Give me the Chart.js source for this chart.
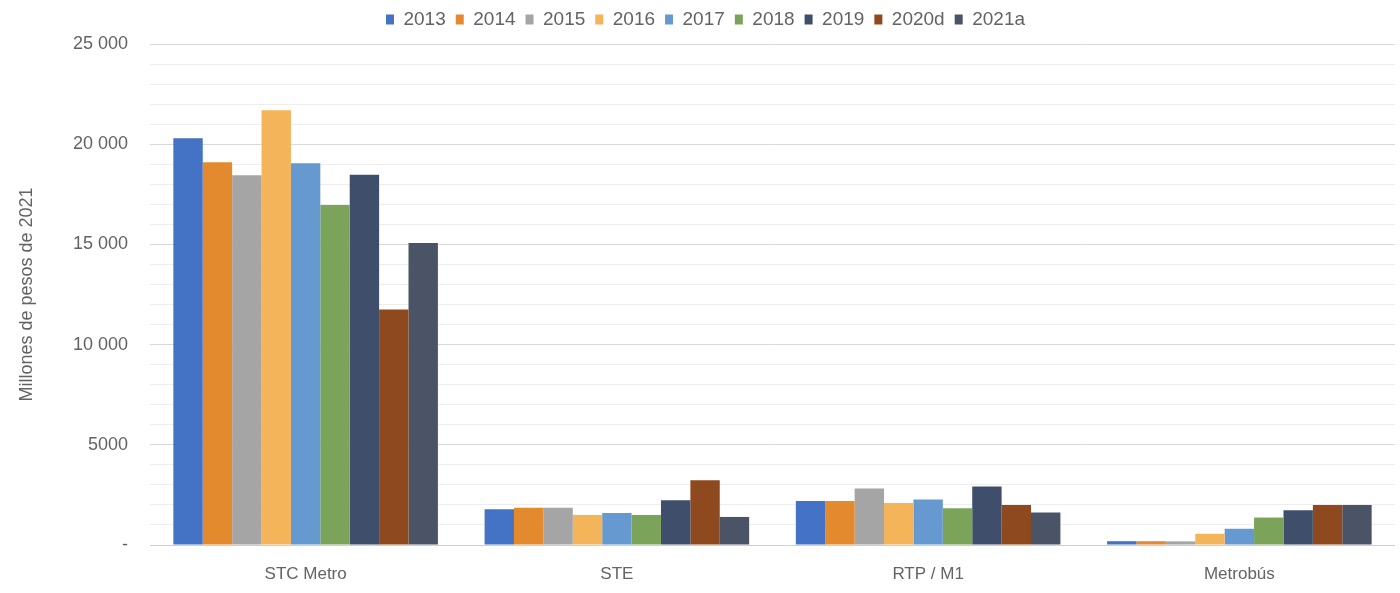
<!DOCTYPE html>
<html>
<head>
<meta charset="utf-8">
<script src="https://cdn.jsdelivr.net/npm/chart.js@4/dist/chart.umd.min.js"></script>
<style>
  html, body { margin: 0; padding: 0; background: #fff; }
  #wrap { width: 1400px; height: 593px; }
</style>
</head>
<body>
<div id="wrap"><canvas id="chart"></canvas></div>
<script>
// categories and series (millones de pesos de 2021)
const categories = ['STC Metro', 'STE', 'RTP / M1', 'Metrobús'];
const years = ['2013', '2014', '2015', '2016', '2017', '2018', '2019', '2020d', '2021a'];

const v2013 = [20300, 1780, 2200, 190];
const v2014 = [19100, 1860, 2200, 190];
const v2015 = [18450, 1860, 2820, 180];
const v2016 = [21700, 1500, 2100, 560];
const v2017 = [19050, 1600, 2270, 810];
const v2018 = [16970, 1500, 1830, 1370];
const v2019 = [18480, 2230, 2920, 1730];
const v2020d = [11750, 3230, 2000, 2000];
const v2021a = [15070, 1400, 1620, 2000];

const colors = ['#4472C4', '#E38A2E', '#A5A5A5', '#F3B45A', '#6699CF', '#7BA35A', '#3F4F6B', '#8E4A1E', '#4A5466'];

const seriesValues = [v2013, v2014, v2015, v2016, v2017, v2018, v2019, v2020d, v2021a];

const datasets = years.map((y, i) => ({
  label: y,
  data: seriesValues[i],
  backgroundColor: colors[i],
  borderWidth: 0,
  categoryPercentage: 0.85,
  barPercentage: 1.0
}));

const formatTick = (value) => {
  if (value === 0) return '-';
  if (value % 5000 !== 0) return '';
  if (value < 10000) return String(value);
  const s = String(value);
  return s.slice(0, s.length - 3) + ' ' + s.slice(-3);
};

const textColor = '#636363';
const fontFamily = '"Liberation Sans", Arial, Helvetica, sans-serif';

// extra space under the legend
const legendGap = {
  id: 'legendGap',
  beforeLayout(chart) {
    const lg = chart.legend;
    if (lg && !lg._gapPatched) {
      const fit = lg.fit;
      lg.fit = function () {
        fit.call(this);
        this.height += 5;
      };
      lg._gapPatched = true;
    }
  }
};

new Chart(document.getElementById('chart'), {
  type: 'bar',
  data: { labels: categories, datasets: datasets },
  plugins: [legendGap],
  options: {
    responsive: true,
    maintainAspectRatio: false,
    animation: false,
    layout: { padding: { left: 16, right: 5, top: 0, bottom: 0 } },
    plugins: {
      legend: {
        position: 'top',
        labels: {
          boxWidth: 8,
          boxHeight: 10,
          padding: 10,
          color: textColor,
          font: { family: fontFamily, size: 19 }
        }
      },
      tooltip: { enabled: false }
    },
    scales: {
      x: {
        afterFit: (scale) => { scale.height = 48; },
        grid: { display: false },
        border: { display: false },
        ticks: {
          color: textColor,
          padding: 11,
          font: { family: fontFamily, size: 17 }
        }
      },
      y: {
        min: 0,
        max: 25000,
        afterFit: (scale) => { scale.width = 134; },
        border: { display: false },
        grid: {
          drawTicks: false,
          color: (ctx) => {
            const v = ctx.tick ? ctx.tick.value : 0;
            if (v === 0) return '#cfcfcf';
            return v % 5000 === 0 ? '#d9d9d9' : '#eeeeee';
          },
          lineWidth: 1
        },
        ticks: {
          stepSize: 1000,
          autoSkip: false,
          padding: 22,
          color: textColor,
          font: { family: fontFamily, size: 18 },
          callback: formatTick
        },
        title: {
          display: true,
          text: 'Millones de pesos de 2021',
          color: textColor,
          font: { family: fontFamily, size: 18 },
          padding: { top: 0, bottom: 0 }
        }
      }
    }
  }
});
</script>
</body>
</html>
